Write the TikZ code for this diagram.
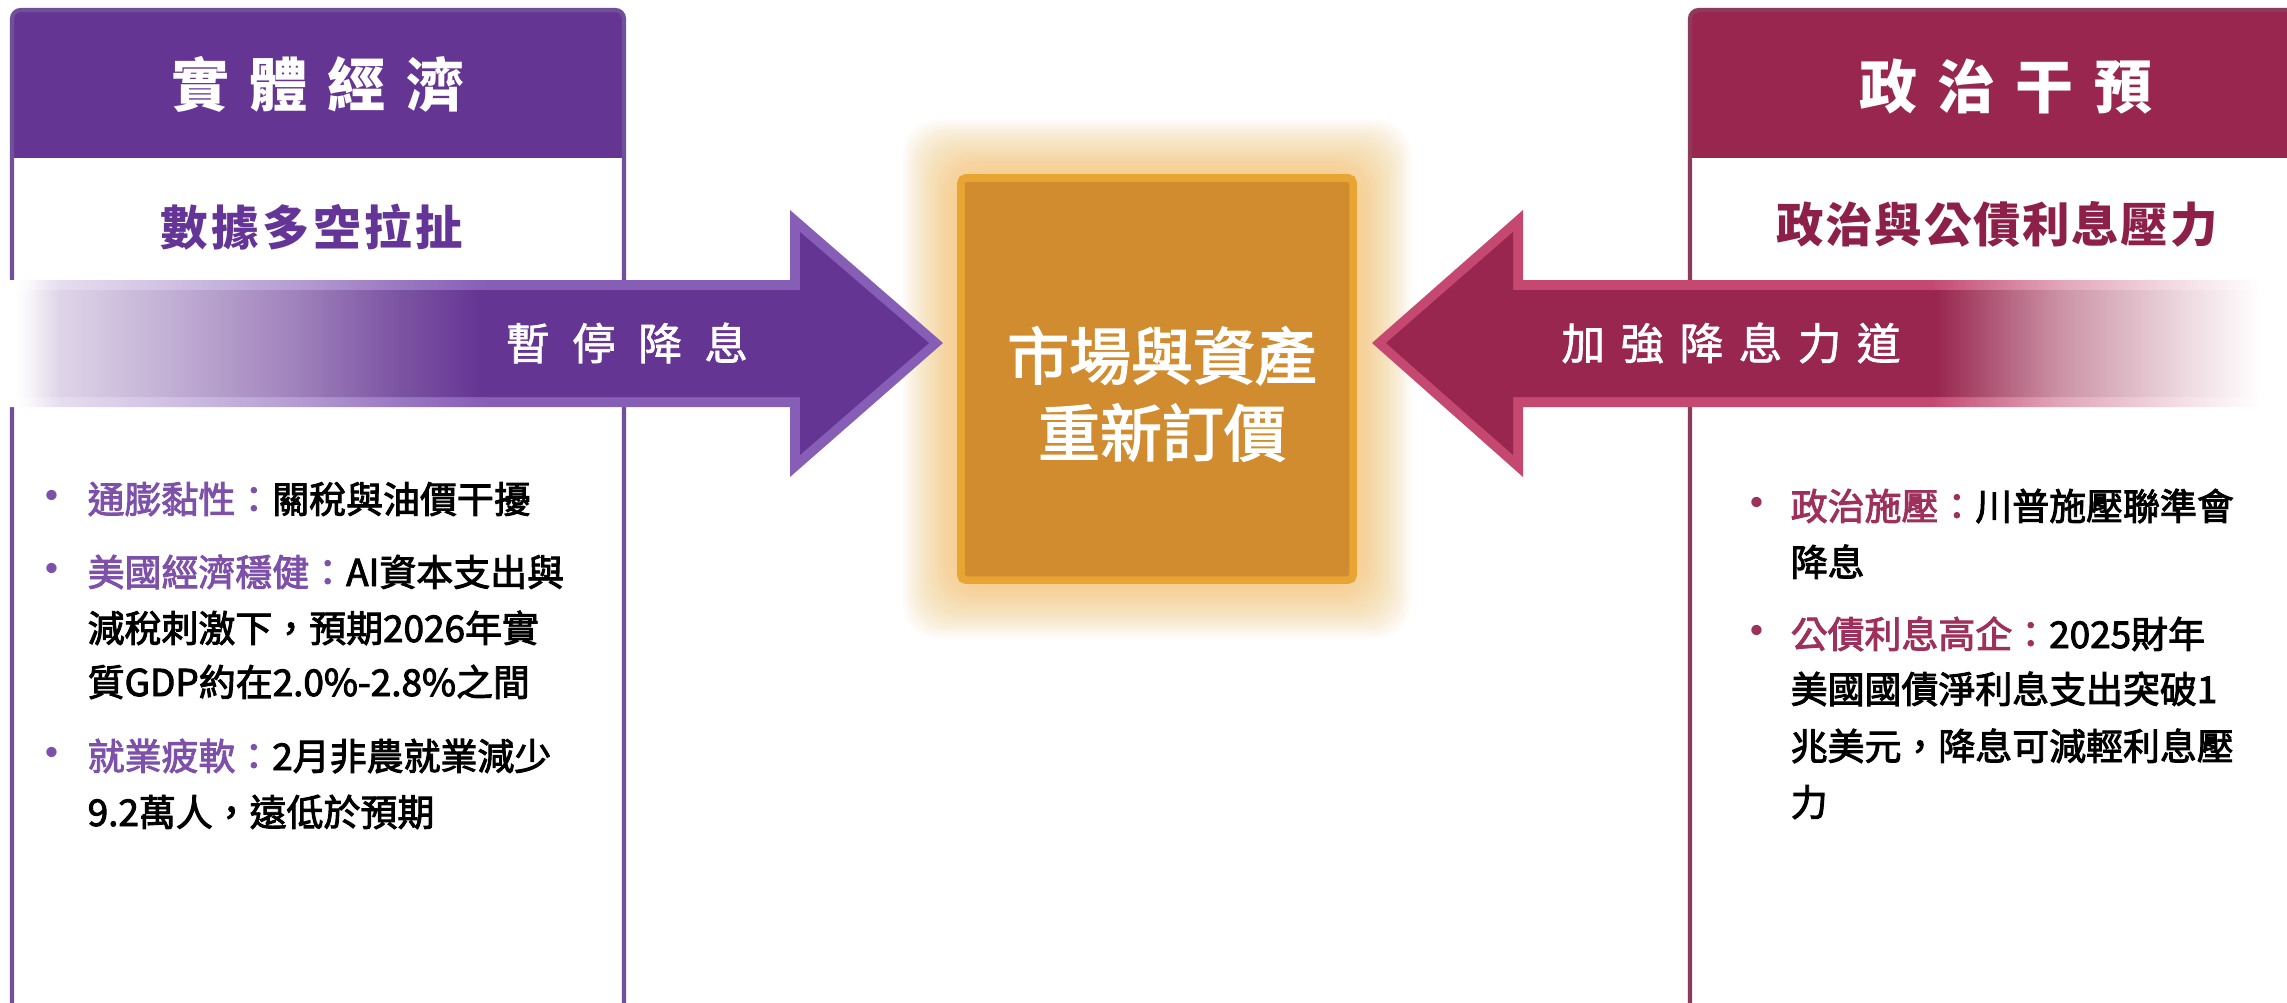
\documentclass[tikz,border=0pt]{standalone}
\usepackage{fontspec}
\setmainfont{Noto Sans CJK TC}
\newfontfamily\medf{Noto Sans CJK TC}[FakeBold=2.5]
\newfontfamily\semf{Noto Sans CJK TC}[FakeBold=1.5]
\definecolor{pur}{RGB}{101,53,147}
\definecolor{purtxt}{RGB}{100,52,150}
\definecolor{purkey}{RGB}{125,80,170}
\definecolor{purline}{RGB}{112,80,152}
\definecolor{purlite}{RGB}{134,94,182}
\definecolor{cri}{RGB}{152,38,78}
\definecolor{critxt}{RGB}{140,32,72}
\definecolor{crikey}{RGB}{158,48,92}
\definecolor{criline}{RGB}{140,60,90}
\definecolor{crilite}{RGB}{196,72,112}
\definecolor{boxfill}{RGB}{210,140,48}
\definecolor{boxline}{RGB}{233,165,52}
\definecolor{glowc}{RGB}{246,185,80}
\colorlet{pA}{pur!5!white}
\colorlet{pB}{pur!13!white}
\colorlet{pC}{pur!21!white}
\colorlet{pD}{pur!39!white}
\colorlet{pE}{pur!62!white}
\colorlet{pF}{pur!84!white}
\colorlet{plA}{purlite!5!white}
\colorlet{plB}{purlite!13!white}
\colorlet{plC}{purlite!21!white}
\colorlet{plD}{purlite!39!white}
\colorlet{plE}{purlite!62!white}
\colorlet{plF}{purlite!84!white}
\colorlet{cA}{cri!50!white}
\colorlet{cB}{cri!18!white}
\colorlet{clA}{crilite!50!white}
\colorlet{clB}{crilite!18!white}
\pgfdeclarehorizontalshading{lfade}{100bp}{color(0bp)=(white); color(25.8bp)=(white); color(26.6bp)=(pA); color(27.3bp)=(pB); color(28.2bp)=(pC); color(34bp)=(pD); color(40.9bp)=(pE); color(46.2bp)=(pF); color(50.9bp)=(pur); color(100bp)=(pur)}
\pgfdeclarehorizontalshading{lfadeL}{100bp}{color(0bp)=(white); color(25.8bp)=(white); color(26.6bp)=(plA); color(27.3bp)=(plB); color(28.2bp)=(plC); color(34bp)=(plD); color(40.9bp)=(plE); color(46.2bp)=(plF); color(50.9bp)=(purlite); color(100bp)=(purlite)}
\pgfdeclarehorizontalshading{rfade}{100bp}{color(0bp)=(cri); color(55.5bp)=(cri); color(62.4bp)=(cA); color(69.2bp)=(cB); color(73.5bp)=(white); color(100bp)=(white)}
\pgfdeclarehorizontalshading{rfadeL}{100bp}{color(0bp)=(crilite); color(55.5bp)=(crilite); color(62.4bp)=(clA); color(69.2bp)=(clB); color(73.5bp)=(white); color(100bp)=(white)}
\begin{document}
\begin{tikzpicture}[x=0.01cm,y=-0.01cm,
  hdr/.style={text=white, font=\fontsize{16.5pt}{20pt}\selectfont\bfseries, inner sep=0pt},
  sub/.style={font=\fontsize{13.5pt}{17pt}\selectfont\bfseries, inner sep=0pt},
  arrtxt/.style={text=white, font=\fontsize{12.4pt}{16pt}\selectfont\semf, inner sep=0pt},
  bl/.style={anchor=base west, inner sep=0pt, font=\fontsize{10.5pt}{13pt}\selectfont\medf},
  bdot/.style={inner sep=0pt, font=\fontsize{10.5pt}{13pt}\selectfont\bfseries},
  panelline/.style={line width=1.2pt, rounded corners=2.5pt},
]
\useasboundingbox (0,0) rectangle (2287,1003);
\clip (0,0) rectangle (2287,1003);
\fill[white] (0,0) rectangle (2287,1003);

% glow around the centre box
\foreach \i in {1,...,24}{
  \fill[glowc, opacity=0.035, rounded corners=10pt] ({958-2.3*\i},{175-2.3*\i}) rectangle ({1356+2.3*\i},{583+2.3*\i});
}

% left panel
\fill[white, rounded corners=2.5pt] (12,10) rectangle (624,1060);
\begin{scope}
  \clip[rounded corners=2.5pt] (12,10) rectangle (624,1060);
  \fill[pur] (12,10) rectangle (624,158);
\end{scope}
\draw[purline, panelline] (12,10) rectangle (624,1060);

% right panel
\fill[white, rounded corners=2.5pt] (1690,10) rectangle (2330,1060);
\begin{scope}
  \clip[rounded corners=2.5pt] (1690,10) rectangle (2330,1060);
  \fill[cri] (1690,10) rectangle (2330,158);
\end{scope}
\draw[criline, panelline] (1690,10) rectangle (2330,1060);

% headers and subtitles
\node (lhead) [hdr] at (318,84) {實\kern5.7pt體\kern5.7pt經\kern5.7pt濟};
\node (rhead) [hdr] at (2006,87) {政\kern5.7pt治\kern5.7pt干\kern5.7pt預};
\node (lsub) [sub, text=purtxt] at (312,227) {數\kern1pt據\kern1pt多\kern1pt空\kern1pt拉\kern1pt扯};
\node (rsub) [sub, text=critxt] at (1997,224) {政\kern0.5pt治\kern0.5pt與\kern0.5pt公\kern0.5pt債\kern0.5pt利\kern0.5pt息\kern0.5pt壓\kern0.5pt力};

% arrows
\shade[shading=lfadeL] (0,280) -- (790,280) -- (790,210) -- (943,343) -- (790,477) -- (790,407) -- (0,407) -- cycle;
\shade[shading=lfade] (0,290) -- (800,290) -- (800,232) -- (929,343) -- (800,455) -- (800,397) -- (0,397) -- cycle;
\shade[shading=rfadeL] (2287,280) -- (1523,280) -- (1523,210) -- (1372,343) -- (1523,477) -- (1523,407) -- (2287,407) -- cycle;
\shade[shading=rfade] (2287,290) -- (1513,290) -- (1513,232) -- (1386,343) -- (1513,455) -- (1513,397) -- (2287,397) -- cycle;

\node (ltxt) [arrtxt] at (627,343) {暫\kern6.4pt停\kern6.4pt降\kern6.4pt息};
\node (rtxt) [arrtxt] at (1731,343) {加\kern4.4pt強\kern4.4pt降\kern4.4pt息\kern4.4pt力\kern4.4pt道};

% centre box
\node (box) [fill=boxfill, draw=boxline, line width=2.2pt, rounded corners=1.5pt, minimum width=3.92cm, minimum height=4.02cm, inner sep=0pt] at (1157,379) {};
\node (boxtxt) [align=center, text=white, font=\fontsize{17.6pt}{21.9pt}\selectfont\medf, inner sep=0pt] at (1162,394) {市場與資產\\重新訂價};

% left bullets
\node (ld1) [bdot, text=purkey] at (52,500) {•};
\node (l1) [bl] at (87,513) {\textcolor{purkey}{通膨黏性：}關稅與油價干擾};
\node (ld2) [bdot, text=purkey] at (52,573) {•};
\node (l2) [bl] at (87,586) {\textcolor{purkey}{美國經濟穩健：}AI資本支出與};
\node (l3) [bl] at (87,642) {減稅刺激下，預期2026年實};
\node (l4) [bl] at (87,696) {質GDP約在2.0\%-2.8\%之間};
\node (ld3) [bdot, text=purkey] at (52,757) {•};
\node (l5) [bl] at (87,770) {\textcolor{purkey}{就業疲軟：}2月非農就業減少};
\node (l6) [bl] at (87,826) {9.2萬人，遠低於預期};

% right bullets
\node (rd1) [bdot, text=crikey] at (1757,507) {•};
\node (r1) [bl] at (1790,520) {\textcolor{crikey}{政治施壓：}川普施壓聯準會};
\node (r2) [bl] at (1790,576) {降息};
\node (rd2) [bdot, text=crikey] at (1757,635) {•};
\node (r3) [bl] at (1790,648) {\textcolor{crikey}{公債利息高企：}2025財年};
\node (r4) [bl] at (1790,703) {美國國債淨利息支出突破1};
\node (r5) [bl] at (1790,760) {兆美元，降息可減輕利息壓};
\node (r6) [bl] at (1790,816) {力};
\end{tikzpicture}
\end{document}
